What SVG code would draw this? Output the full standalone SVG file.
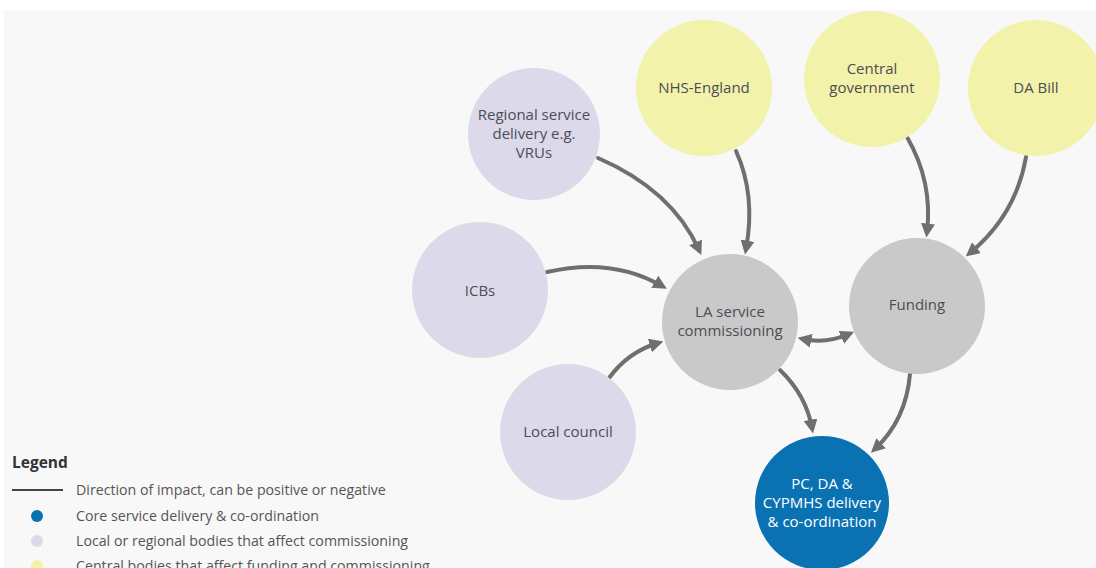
<svg xmlns="http://www.w3.org/2000/svg" width="1096" height="568" viewBox="0 0 1096 568">
<style>
.lav{fill:#dcdaea}
.yel{fill:#f2f2aa}
.gry{fill:#c9c9c9}
.blu{fill:#0a72b2}
.t{font-family:"Open Sans",Lato,"Liberation Sans",sans-serif;font-size:15px;fill:#4d4d55;text-anchor:middle}
.tw{font-family:"Open Sans",Lato,"Liberation Sans",sans-serif;font-size:15px;fill:#ffffff;text-anchor:middle}
.lg{font-family:"Open Sans",Lato,"Liberation Sans",sans-serif;font-size:14.2px;fill:#555555}
.conn{fill:none;stroke:#6f6f6f;stroke-width:4;stroke-linecap:round}
</style>
<defs>
<marker id="ah" viewBox="0 0 10 10" refX="6" refY="5" markerWidth="14" markerHeight="14" markerUnits="userSpaceOnUse" orient="auto-start-reverse">
<path d="M0,0 L10,5 L0,10 z" fill="#6f6f6f"/>
</marker>
</defs>
<rect width="1096" height="568" fill="#ffffff"/>
<rect x="4" y="10" width="1092" height="558" fill="#f8f8f8"/>

<g id="connectors">
<path class="conn" d="M598,158 Q672,190 699,250" marker-end="url(#ah)"/>
<path class="conn" d="M736,151 Q756,195 746,249" marker-end="url(#ah)"/>
<path class="conn" d="M547,272 Q612,257 662,286" marker-end="url(#ah)"/>
<path class="conn" d="M609,378 Q628,352 658,343" marker-end="url(#ah)"/>
<path class="conn" d="M907,137 Q933,182 927,232" marker-end="url(#ah)"/>
<path class="conn" d="M1026,157 Q1016,215 970,253" marker-end="url(#ah)"/>
<path class="conn" d="M803,339 Q826,344 849,334" marker-start="url(#ah)" marker-end="url(#ah)"/>
<path class="conn" d="M780,370 Q806,395 812,428" marker-end="url(#ah)"/>
<path class="conn" d="M910,374 Q906,420 875,449" marker-end="url(#ah)"/>
</g>

<g id="regional">
<circle class="lav" cx="534" cy="134" r="66"/>
<text class="t" x="534" y="120">Regional service</text>
<text class="t" x="534" y="139">delivery e.g.</text>
<text class="t" x="534" y="158">VRUs</text>
</g>
<g id="nhs">
<circle class="yel" cx="704" cy="88" r="68"/>
<text class="t" x="704" y="93">NHS-England</text>
</g>
<g id="central">
<circle class="yel" cx="872" cy="79" r="68"/>
<text class="t" x="872" y="74">Central</text>
<text class="t" x="872" y="93">government</text>
</g>
<g id="dabill">
<circle class="yel" cx="1036" cy="88" r="68"/>
<text class="t" x="1036" y="93">DA Bill</text>
</g>
<g id="icbs">
<circle class="lav" cx="480" cy="290" r="68"/>
<text class="t" x="480" y="296">ICBs</text>
</g>
<g id="local">
<circle class="lav" cx="568" cy="432" r="68"/>
<text class="t" x="568" y="437">Local council</text>
</g>
<g id="la">
<circle class="gry" cx="730" cy="322" r="68"/>
<text class="t" x="730" y="317">LA service</text>
<text class="t" x="730" y="336">commissioning</text>
</g>
<g id="funding">
<circle class="gry" cx="917" cy="306" r="68"/>
<text class="t" x="917" y="310">Funding</text>
</g>
<g id="pc">
<circle class="blu" cx="822" cy="503" r="67"/>
<text class="tw" x="822" y="489">PC, DA &amp;</text>
<text class="tw" x="822" y="508">CYPMHS delivery</text>
<text class="tw" x="822" y="527">&amp; co-ordination</text>
</g>

<g id="legend">
<text x="12" y="468" font-family="'Open Sans',Lato,'Liberation Sans',sans-serif" font-size="15.5" font-weight="bold" fill="#333333">Legend</text>
<line x1="12" y1="490" x2="63" y2="490" stroke="#444444" stroke-width="2"/>
<text class="lg" x="76" y="495">Direction of impact, can be positive or negative</text>
<circle cx="37" cy="516" r="6" class="blu"/>
<text class="lg" x="76" y="521">Core service delivery &amp; co-ordination</text>
<circle cx="37" cy="541" r="6" class="lav"/>
<text class="lg" x="76" y="546">Local or regional bodies that affect commissioning</text>
<circle cx="37" cy="566" r="6" class="yel"/>
<text class="lg" x="76" y="571">Central bodies that affect funding and commissioning</text>
</g>
</svg>
